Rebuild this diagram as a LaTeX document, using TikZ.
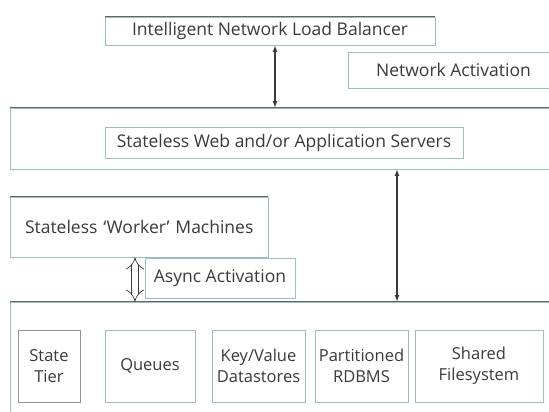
\documentclass[tikz,border=0pt]{standalone}
\usepackage{fontspec}
\setmainfont{Open Sans}
\usetikzlibrary{arrows.meta}
\definecolor{boxline}{HTML}{9FBDBD}
\definecolor{edgeline}{HTML}{5E6868}
\definecolor{txt}{HTML}{3A3A3A}
\tikzset{>={Latex[scale=0.8]}}
\tikzset{
  tier/.style={draw=boxline, line width=0.8pt, fill=white, text=txt, inner sep=0pt, font=\fontsize{17.5}{21}\selectfont},
  store/.style={tier, align=center, minimum height=72pt, font=\fontsize{16.5}{21}\selectfont},
  topedge/.style={draw=edgeline, line width=1.6pt},
  flow/.style={draw=txt, line width=1.1pt, <->},
  hollow/.style={draw=txt, line width=0.7pt, double, double distance=6pt, {Implies}-{Implies}}
}

\begin{document}
\begin{tikzpicture}[x=1pt, y=-1pt]
  \useasboundingbox (0,0) rectangle (549,412);
  % upper tiers
  \node[tier, minimum width=330pt, minimum height=28pt] (lb) at (270,31) {Intelligent Network Load Balancer};
  \node[tier, minimum width=201pt, minimum height=36pt] (netact) at (448.5,70) {\hspace*{10pt}Network Activation};
  \node[tier, minimum width=539pt, minimum height=61pt] (web) at (279.5,138.5) {};
  \node[tier, minimum width=358pt, minimum height=31pt] (webtxt) at (284,142.5) {Stateless Web and/or Application Servers};
  \node[tier, text width=238pt, inner xsep=10pt, minimum height=60pt, align=left] (worker) at (139,227) {\hspace*{5pt}Stateless `Worker' Machines};
  \node[tier, minimum width=150pt, minimum height=40pt] (async) at (220,278) {Async Activation};
  % state tier
  \node[tier, minimum width=539pt, minimum height=110pt] (state) at (279.5,357) {};
  \node[store, minimum width=62pt, draw=edgeline!70] (tier) at (49,366) {State\\Tier};
  \node[store, minimum width=90pt] (queues) at (150,366) {Queues};
  \node[store, minimum width=93pt] (keyval) at (258.5,366) {Key/Value\\Datastores};
  \node[store, minimum width=93pt] (rdbms) at (361.5,366) {Partitioned\\RDBMS};
  \node[store, minimum width=128pt] (shared) at (479,366) {Shared\\Filesystem};

  \draw[topedge] (lb.north west) -- (lb.north east);
  \draw[topedge] (web.north west) -- (web.north east);
  \draw[topedge] (worker.north west) -- (worker.north east);
  \draw[topedge] (state.north west) -- (state.north east);

  \coordinate (webtap) at (275,0);
  \coordinate (dbtap) at (397,0);
  \coordinate (qtap) at (135,0);
  \draw[flow] (lb.south -| webtap) -- (web.north -| webtap);
  \draw[flow] (web.south -| dbtap) -- (state.north -| dbtap);
  \draw[hollow] (worker.south -| qtap) -- (state.north -| qtap);
\end{tikzpicture}
\end{document}
